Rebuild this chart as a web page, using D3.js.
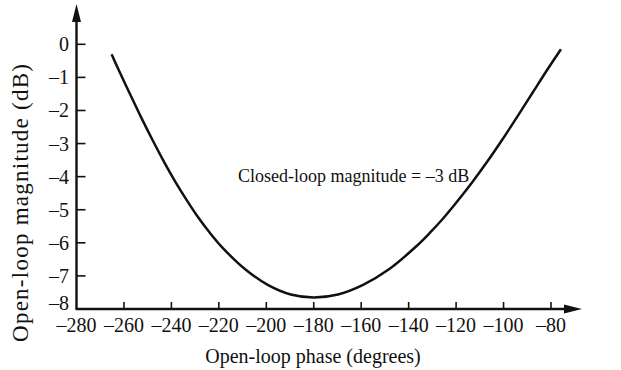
<!DOCTYPE html>
<html><head><meta charset="utf-8">
<script src="https://cdn.jsdelivr.net/npm/d3@7"></script>
<style>
html,body{margin:0;padding:0;background:#fff;}
svg text{font-family:"Liberation Serif","Times New Roman",serif;fill:#111;}
</style></head>
<body><svg id="c" width="621" height="370"></svg>
<script>
// Data
const phase = [-265.2, -262.45, -257.6, -252.75, -247.9, -243.05, -238.2, -233.35, -228.5, -223.65, -218.8,
               -208.9, -199.4, -189.7, -180, -169.8, -159.2, -148.3, -137.0, -131.2, -125.3, -119.3,
               -113.2, -107.0, -100.7, -94.4, -87.9, -81.3, -75.8];
const magnitude = [-0.3, -0.74, -1.48, -2.21, -2.9, -3.56, -4.17, -4.73, -5.25, -5.71, -6.12,
               -6.8, -7.27, -7.56, -7.65, -7.56, -7.27, -6.8, -6.12, -5.71, -5.25, -4.73,
               -4.17, -3.56, -2.9, -2.21, -1.48, -0.74, -0.15];
const xTicks = [-280, -260, -240, -220, -200, -180, -160, -140, -120, -100, -80];
const yTicks = [0, -1, -2, -3, -4, -5, -6, -7, -8];
const xTitle = "Open-loop phase (degrees)";
const yTitle = "Open-loop magnitude (dB)";
const note = "Closed-loop magnitude = \u20133 dB";

const svg = d3.select("#c");
const x = d3.scaleLinear().domain([-280, -80]).range([76.5, 551]);
const y = d3.scaleLinear().domain([-8, 0]).range([309, 44.3]);
const fmt = v => v < 0 ? "\u2013" + Math.abs(v) : String(v);

// axes lines
const ax = svg.append("g").attr("stroke", "#111").attr("stroke-width", 2.4);
ax.append("line").attr("x1", x(-280) - 1).attr("x2", 570).attr("y1", y(-8)).attr("y2", y(-8));
ax.append("line").attr("x1", x(-280)).attr("x2", x(-280)).attr("y1", y(-8)).attr("y2", 18);
svg.append("path").attr("d", `M582,${y(-8)} L564,${y(-8)-4.5} L564,${y(-8)+4.5} Z`).attr("fill", "#111");
svg.append("path").attr("d", `M${x(-280)},4 L${x(-280)-4.5},22 L${x(-280)+4.5},22 Z`).attr("fill", "#111");

// x ticks
const xt = svg.append("g");
xt.selectAll("line").data(xTicks.filter(d => d !== -280)).join("line")
  .attr("x1", d => x(d)).attr("x2", d => x(d)).attr("y1", y(-8)).attr("y2", y(-8) - 7)
  .attr("stroke", "#111").attr("stroke-width", 1.6);
xt.selectAll("text").data(xTicks).join("text")
  .attr("x", d => x(d)).attr("y", 332).attr("text-anchor", "middle")
  .attr("font-size", 20).text(fmt);

// y ticks
const yt = svg.append("g");
yt.selectAll("line").data(yTicks.filter(d => d !== -8)).join("line")
  .attr("x1", x(-280)).attr("x2", x(-280) + 9).attr("y1", d => y(d)).attr("y2", d => y(d))
  .attr("stroke", "#111").attr("stroke-width", 1.6);
yt.selectAll("text").data(yTicks).join("text")
  .attr("x", 69).attr("y", d => y(d) + (d === -8 ? 1 : 7)).attr("text-anchor", "end")
  .attr("font-size", 20).text(fmt);

// curve
const pts = phase.map((p, i) => [p, magnitude[i]]);
svg.append("path").datum(pts)
  .attr("d", d3.line().x(d => x(d[0])).y(d => y(d[1])).curve(d3.curveCatmullRom.alpha(0.5)))
  .attr("fill", "none").attr("stroke", "#111").attr("stroke-width", 2.5);

// annotation
svg.append("text").attr("x", 238).attr("y", 182).attr("font-size", 18).text(note);

// titles
svg.append("text").attr("x", 313).attr("y", 363).attr("text-anchor", "middle")
  .attr("font-size", 20).text(xTitle);
svg.append("text").attr("transform", "translate(28,203) rotate(-90)").attr("text-anchor", "middle")
  .attr("font-size", 23).attr("textLength", 278).attr("lengthAdjust", "spacing").text(yTitle);
</script></body></html>
